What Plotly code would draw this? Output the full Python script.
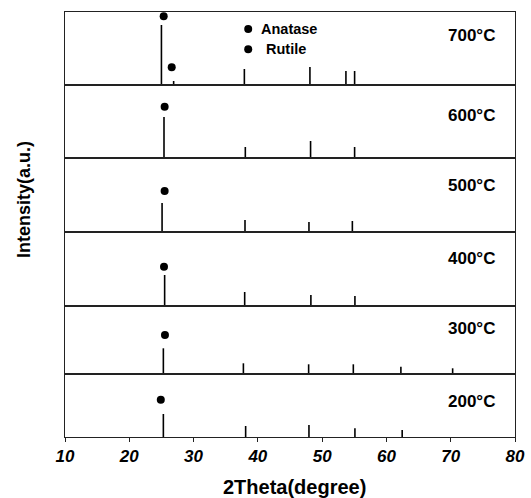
import plotly.graph_objects as go
from plotly.subplots import make_subplots

# ---- data ----
temperatures = ["700°C", "600°C", "500°C", "400°C", "300°C", "200°C"]
intensity_span = [73, 73, 74, 74, 68, 63]   # full-scale intensity of each panel (a.u.)

peaks_700_x = [25.0, 26.9, 37.9, 48.1, 53.7, 55.05]
peaks_700_y = [60, 4, 16, 18, 14, 14]
peaks_600_x = [25.4, 38.05, 48.2, 55.05]
peaks_600_y = [41, 11, 17, 11]
peaks_500_x = [25.1, 38.0, 47.95, 54.7]
peaks_500_y = [29, 12, 10, 11]
peaks_400_x = [25.5, 37.95, 48.25, 55.1]
peaks_400_y = [31, 14, 11, 10]
peaks_300_x = [25.3, 37.75, 47.9, 54.85, 62.25, 70.3]
peaks_300_y = [25.7, 10.7, 9.7, 9.7, 7.3, 5.7]
peaks_200_x = [25.3, 38.1, 47.95, 55.1, 62.45]
peaks_200_y = [23, 11, 12, 8.7, 7]

anatase_dot_x = [25.35, 25.5, 25.5, 25.4, 25.55, 24.9]
anatase_dot_y = [68.7, 51.3, 41, 39.3, 39, 37.3]
rutile_dot_x = [26.6]
rutile_dot_y = [17.7]

legend_labels = ["Anatase", "Rutile"]
x_ticks = [10, 20, 30, 40, 50, 60, 70, 80]

peaks_x = [peaks_700_x, peaks_600_x, peaks_500_x, peaks_400_x, peaks_300_x, peaks_200_x]
peaks_y = [peaks_700_y, peaks_600_y, peaks_500_y, peaks_400_y, peaks_300_y, peaks_200_y]

# ---- figure ----
W, H = 531, 498
mt, mb, ml, mr = 12, 61, 65, 16
plot_h = H - mt - mb
plot_w = W - ml - mr
bounds_px = [12, 85, 158, 232, 306, 374, 437]  # panel borders (pixels from top)
label_y = [49.3, 43, 46.7, 48, 45.7, 35.5]

fig = make_subplots(rows=6, cols=1, shared_xaxes=True, vertical_spacing=0)

FONT = "Liberation Sans, Arial, sans-serif"

for i in range(6):
    r = i + 1
    xs, ys = [], []
    for px, py in zip(peaks_x[i], peaks_y[i]):
        xs += [px, px, None]
        ys += [0, py, None]
    fig.add_trace(go.Scatter(x=xs, y=ys, mode="lines",
                             line=dict(color="black", width=1.6),
                             showlegend=False, hoverinfo="skip"), row=r, col=1)
    fig.add_trace(go.Scatter(x=[anatase_dot_x[i]], y=[anatase_dot_y[i]], mode="markers",
                             marker=dict(color="black", size=8),
                             showlegend=False), row=r, col=1)
    top = (H - mb - bounds_px[i]) / plot_h
    bot = (H - mb - bounds_px[i + 1]) / plot_h
    yname = "yaxis" if r == 1 else f"yaxis{r}"
    xname = "xaxis" if r == 1 else f"xaxis{r}"
    fig.layout[yname].update(domain=[max(bot, 0), min(top, 1)],
                             range=[0, intensity_span[i]],
                             showticklabels=False, ticks="", showgrid=False,
                             zeroline=False, showline=True, mirror=True,
                             linecolor="#222", linewidth=1, automargin=False)
    fig.layout[xname].update(range=[10, 80], showgrid=False, zeroline=False,
                             showline=True, mirror=True, linecolor="#222", linewidth=1,
                             showticklabels=(r == 6), ticks=("outside" if r == 6 else ""),
                             tickvals=x_ticks, ticklen=4, tickcolor="#222",
                             automargin=False)
    yref = "y" if r == 1 else f"y{r}"
    fig.add_annotation(x=(497 - ml) / plot_w, xref="paper", y=label_y[i], yref=yref,
                       text=temperatures[i], showarrow=False, xanchor="right",
                       font=dict(family=FONT, size=17, color="black", weight="bold"))

# rutile marker in 700 panel
fig.add_trace(go.Scatter(x=rutile_dot_x, y=rutile_dot_y, mode="markers",
                         marker=dict(color="black", size=8), showlegend=False), row=1, col=1)
# in-plot legend
fig.add_trace(go.Scatter(x=[38.5, 38.5], y=[56, 35.7], mode="markers",
                         marker=dict(color="black", size=8), showlegend=False), row=1, col=1)
for lx, ly, txt in [(40.2, 56, legend_labels[0]), (40.9, 35.7, legend_labels[1])]:
    fig.add_annotation(x=lx, y=ly, xref="x", yref="y", text=txt, showarrow=False,
                       xanchor="left", font=dict(family=FONT, size=14.5, color="black", weight="bold"))

fig.update_xaxes(tickfont=dict(family=FONT, size=17, color="black", weight="bold", style="italic"),
                 row=6, col=1)

# axis titles
fig.add_annotation(x=(294 - ml) / plot_w, y=(H - mb - 487) / plot_h, xref="paper", yref="paper",
                   text="2Theta(degree)", showarrow=False, xanchor="center", yanchor="middle",
                   font=dict(family=FONT, size=20, color="black", weight="bold"))
fig.add_annotation(x=(24 - ml) / plot_w, y=(H - mb - 200) / plot_h, xref="paper", yref="paper",
                   text="Intensity(a.u.)", textangle=-90, showarrow=False,
                   xanchor="center", yanchor="middle",
                   font=dict(family=FONT, size=18, color="black", weight="bold"))

fig.update_layout(width=W, height=H, margin=dict(l=ml, r=mr, t=mt, b=mb, autoexpand=False),
                  plot_bgcolor="white", paper_bgcolor="white", showlegend=False)

fig.write_html("out.html")
